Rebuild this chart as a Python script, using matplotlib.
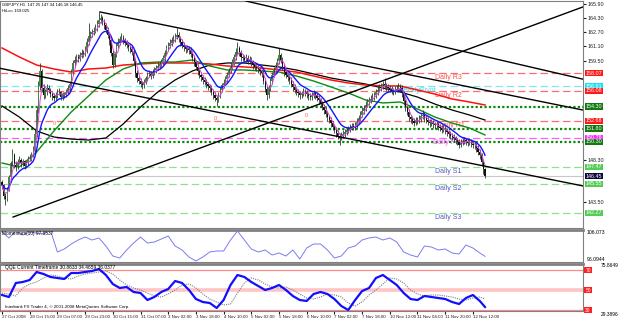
import matplotlib
matplotlib.use('Agg')
import matplotlib.pyplot as plt
import matplotlib.transforms as mtransforms
import numpy as np
import pandas as pd

plt.rcParams['font.family'] = ['Liberation Sans', 'DejaVu Sans']

# ---- data (GBPJPY H1, 27 Oct 23:00 .. 12 Nov) ----
title_text = 'GBPJPY,H1  147.25 147.34 146.18 146.45'
hilo_text = 'HiLo= 159.025'

first_open = 145.8
closes = [
    145.4, 144.2, 143.9, 144.9, 146.3, 147.9, 148.8, 147.7, 147.5, 148.0,
    148.3, 147.9, 148.1, 147.6, 147.9, 148.4, 148.5, 148.9, 149.4, 151.2,
    153.9, 156.6, 158.3, 156.4, 155.6, 155.9, 156.4, 156.2, 155.7, 155.5,
    155.3, 155.6, 156.0, 155.9, 155.4, 155.7, 155.6, 156.0, 156.4, 156.8,
    158.2, 159.2, 159.6, 159.9, 159.7, 160.1, 160.4, 160.2, 160.7, 161.6,
    162.3, 162.5, 162.7, 162.9, 163.2, 163.6, 164.1, 164.3, 163.9, 163.5,
    163.0, 162.4, 161.8, 160.4, 159.0, 160.2, 161.2, 161.6, 161.9, 162.1,
    161.8, 161.5, 161.3, 161.0, 160.8, 160.5, 159.4, 158.1, 157.5, 157.2,
    156.9, 156.7, 157.1, 157.5, 157.9, 158.0, 157.8, 158.2, 158.4, 158.7,
    158.9, 159.1, 159.3, 159.8, 160.4, 160.9, 161.2, 161.5, 161.8, 161.9,
    162.2, 162.4, 162.0, 161.6, 161.3, 161.0, 160.8, 160.9, 160.7, 160.3,
    159.8, 159.3, 158.8, 158.3, 157.9, 157.6, 157.3, 157.1, 156.8, 156.6,
    156.4, 156.0, 155.6, 155.3, 155.1, 155.6, 156.2, 156.7, 157.0, 157.4,
    157.9, 158.4, 158.9, 159.3, 159.9, 160.5, 160.9, 160.4, 159.9, 159.8,
    159.6, 159.8, 159.5, 159.6, 159.3, 159.0, 158.8, 158.7, 158.5, 158.3,
    158.1, 157.2, 156.3, 155.6, 156.4, 157.2, 157.9, 158.5, 159.0, 159.4,
    160.1, 159.6, 158.8, 158.2, 157.9, 157.6, 157.3, 156.9, 156.5, 156.2,
    156.0, 155.8, 155.6, 155.8, 156.0, 155.9, 155.7, 155.5, 155.4, 155.6,
    155.8, 155.6, 155.3, 155.0, 154.6, 154.3, 153.9, 153.5, 153.1, 152.8,
    152.4, 152.0, 151.7, 151.3, 151.0, 150.8, 151.0, 151.2, 151.4, 151.6,
    151.7, 151.9, 152.1, 152.0, 152.2, 152.6, 153.0, 153.4, 153.8, 154.1,
    154.5, 154.8, 155.0, 155.2, 155.4, 155.6, 155.9, 156.2, 156.4, 156.6,
    156.8, 156.7, 156.5, 156.4, 156.3, 156.1, 156.0, 156.2, 156.3, 156.5,
    156.4, 155.8, 154.9, 154.2, 153.7, 153.1, 152.9, 152.7, 152.5, 152.8,
    152.7, 152.9, 153.2, 153.4, 153.0, 152.8, 152.6, 152.4, 152.5, 152.3,
    152.2, 152.3, 152.0, 151.9, 151.7, 151.8, 151.6, 151.4, 151.2, 151.0,
    150.9, 150.7, 150.5, 150.3, 150.0, 150.2, 150.4, 150.5, 150.3, 150.2,
    150.3, 150.1, 150.0, 149.9, 149.6, 149.2, 148.8, 148.0, 147.25, 146.45,
]
highs = [
    146.0, 145.6, 144.5, 145.2, 146.6, 148.2, 149.5, 149.0, 148.1, 148.4,
    148.7, 148.5, 148.4, 148.3, 148.2, 148.7, 148.9, 149.2, 149.8, 151.6,
    154.3, 157.2, 159.2, 158.6, 156.8, 156.3, 156.8, 156.7, 156.4, 156.0,
    155.8, 155.9, 156.3, 156.4, 156.1, 156.0, 156.0, 156.3, 156.7, 157.2,
    158.6, 159.6, 160.0, 160.3, 160.2, 160.5, 160.8, 160.7, 161.1, 162.0,
    163.8, 162.9, 163.1, 163.3, 163.6, 164.1, 165.0, 164.8, 164.6, 164.2,
    163.8, 163.3, 162.7, 162.0, 160.7, 160.5, 161.5, 162.0, 162.3, 162.6,
    162.4, 162.1, 161.8, 161.6, 161.3, 161.1, 160.8, 159.7, 158.4, 157.8,
    157.5, 157.2, 157.4, 157.8, 158.2, 158.4, 158.3, 158.5, 158.8, 159.0,
    159.3, 159.5, 159.7, 160.1, 160.7, 161.3, 161.6, 161.9, 162.2, 162.4,
    162.6, 163.2, 162.7, 162.3, 161.9, 161.6, 161.3, 161.3, 161.2, 161.0,
    160.6, 160.1, 159.6, 159.1, 158.6, 158.2, 157.9, 157.6, 157.4, 157.1,
    156.9, 156.7, 156.3, 155.9, 155.6, 155.9, 156.5, 157.0, 157.4, 157.8,
    158.2, 158.7, 159.3, 159.7, 160.3, 160.9, 161.6, 161.2, 160.7, 160.3,
    160.1, 160.2, 160.1, 160.0, 159.9, 159.6, 159.3, 159.2, 159.0, 158.8,
    158.6, 158.4, 157.5, 156.6, 156.7, 157.5, 158.2, 158.8, 159.3, 159.8,
    160.9, 160.4, 159.9, 159.1, 158.5, 158.2, 157.9, 157.6, 157.2, 156.8,
    156.5, 156.3, 156.1, 156.1, 156.4, 156.3, 156.2, 156.0, 155.8, 156.0,
    156.2, 156.1, 155.9, 155.6, 155.3, 154.9, 154.6, 154.2, 153.8, 153.4,
    153.1, 152.7, 152.3, 152.0, 151.6, 151.3, 151.4, 151.6, 151.8, 152.0,
    152.1, 152.3, 152.5, 152.4, 152.6, 153.0, 153.4, 153.8, 154.2, 154.5,
    154.9, 155.2, 155.4, 155.6, 155.8, 156.0, 156.3, 156.6, 156.8, 157.0,
    157.2, 157.5, 157.0, 156.8, 156.7, 156.6, 156.4, 156.6, 156.7, 157.0,
    156.9, 156.7, 156.1, 155.2, 154.5, 154.0, 153.4, 153.2, 153.0, 153.1,
    153.1, 153.3, 153.6, 153.9, 153.7, 153.3, 153.1, 152.9, 152.9, 152.8,
    152.6, 152.7, 152.6, 152.3, 152.2, 152.2, 152.1, 151.9, 151.7, 151.5,
    151.3, 151.2, 151.0, 150.8, 150.6, 150.6, 150.8, 150.9, 150.8, 150.6,
    150.7, 150.6, 150.4, 150.3, 150.2, 149.9, 149.5, 149.1, 148.3, 147.34,
]
lows = [
    145.0, 143.8, 143.2, 143.6, 144.7, 146.1, 147.6, 147.3, 147.0, 147.2,
    147.8, 147.5, 147.6, 147.2, 147.3, 147.7, 148.1, 148.2, 148.6, 149.2,
    150.9, 153.6, 156.2, 155.9, 155.2, 155.3, 155.6, 155.8, 155.4, 155.1,
    154.9, 155.0, 155.3, 155.6, 155.0, 155.1, 155.3, 155.4, 155.7, 156.1,
    156.6, 157.9, 158.8, 159.3, 159.3, 159.4, 159.8, 159.9, 160.0, 160.4,
    161.3, 162.0, 162.2, 162.4, 162.6, 162.9, 163.3, 163.8, 163.5, 163.1,
    162.6, 162.0, 161.3, 160.0, 158.7, 158.8, 159.9, 160.9, 161.3, 161.6,
    161.4, 161.1, 160.9, 160.6, 160.4, 160.1, 159.0, 157.7, 157.1, 156.8,
    156.5, 156.3, 156.4, 156.8, 157.2, 157.6, 157.4, 157.5, 157.9, 158.1,
    158.4, 158.6, 158.8, 159.0, 159.5, 160.1, 160.6, 160.9, 161.2, 161.5,
    161.6, 161.9, 161.6, 161.2, 160.9, 160.6, 160.4, 160.5, 160.3, 159.9,
    159.4, 158.9, 158.4, 157.9, 157.5, 157.2, 156.9, 156.7, 156.4, 156.2,
    156.0, 155.6, 155.2, 154.9, 154.4, 154.8, 155.3, 155.9, 156.4, 156.7,
    157.1, 157.6, 158.1, 158.6, 159.0, 159.6, 160.2, 160.0, 159.5, 159.4,
    159.2, 159.3, 159.1, 159.2, 158.9, 158.6, 158.4, 158.3, 158.1, 157.9,
    157.7, 156.8, 155.9, 155.0, 155.3, 156.1, 156.9, 157.6, 158.2, 158.7,
    159.1, 159.2, 158.4, 157.8, 157.5, 157.2, 156.9, 156.5, 156.1, 155.8,
    155.6, 155.4, 155.2, 155.3, 155.5, 155.5, 155.3, 155.1, 155.0, 155.1,
    155.3, 155.2, 154.9, 154.6, 154.2, 153.9, 153.5, 153.1, 152.7, 152.4,
    152.0, 151.6, 151.3, 150.9, 150.6, 150.0, 150.5, 150.7, 150.9, 151.1,
    151.3, 151.4, 151.6, 151.6, 151.7, 151.9, 152.3, 152.7, 153.1, 153.5,
    153.8, 154.2, 154.5, 154.7, 154.9, 155.1, 155.3, 155.6, 155.9, 156.1,
    156.3, 156.3, 156.1, 156.0, 155.9, 155.7, 155.6, 155.7, 155.9, 156.0,
    156.0, 155.4, 154.5, 153.8, 153.3, 152.7, 152.5, 152.3, 152.1, 152.2,
    152.3, 152.4, 152.6, 152.9, 152.6, 152.4, 152.2, 152.0, 152.1, 151.9,
    151.8, 151.9, 151.6, 151.5, 151.3, 151.4, 151.2, 151.0, 150.8, 150.6,
    150.5, 150.3, 150.1, 149.9, 149.6, 149.7, 149.9, 150.1, 149.9, 149.8,
    149.9, 149.7, 149.6, 149.5, 149.2, 148.8, 148.4, 147.6, 146.7, 146.18,
]

# long moving averages, read every 10 bars (last one at the final bar)
ma_bars = [0, 10, 20, 30, 40, 50, 60, 70, 80, 90, 100, 110, 120, 130, 140,
           150, 160, 170, 180, 190, 200, 210, 220, 230, 240, 250, 260, 270, 279]
green_ma = [147.92, 147.47, 149.16, 151.54, 153.69, 155.50, 157.31, 158.55,
            159.23, 159.34, 159.34, 159.57, 158.89, 158.44, 158.44, 158.32,
            158.21, 157.76, 157.19, 156.52, 155.84, 155.05, 154.71, 154.82,
            154.03, 153.12, 152.44, 151.88, 151.09]
red_ma = [160.93, 159.91, 159.00, 158.55, 158.21, 158.55, 158.66, 159.00,
          159.12, 159.23, 159.23, 159.23, 159.12, 158.89, 158.78, 158.66,
          158.44, 158.21, 157.76, 157.31, 156.97, 156.74, 156.63, 156.63,
          156.18, 155.72, 155.16, 154.82, 154.48]
black_ma = [154.37, 153.12, 151.54, 150.86, 150.63, 150.52, 150.75, 152.33,
            154.25, 155.95, 157.31, 158.33, 159.00, 159.23, 159.23, 159.00,
            158.78, 158.44, 157.99, 157.53, 157.19, 156.85, 156.40, 155.95,
            155.38, 154.59, 153.91, 153.35, 152.78]

# trend lines: (bar, price) anchors
channel_lines = [((143.3, 166.13), (350.1, 156.74)),
                 ((229.9, 149.50), (350.1, 144.75))]
ray_lines = [((56.6, 165.00), (241.5, 157.65)),
             ((6.4, 141.81), (241.5, 158.78))]

# pivot / level lines
level_names = ['Daily R3', 'WeeklyPivot', 'Daily R2', '', 'Daily R1', '',
               'Daily Pivot', '', 'Daily S1', '', 'Daily S2', 'Daily S3']
level_prices = [158.07, 156.61, 156.08, 154.30, 152.68, 151.80,
                150.76, 150.30, 147.47, 146.45, 145.55, 142.27]
level_kinds = ['r', 'w', 'r', 'g', 'r', 'g', 'p', 'g', 's', 'bid', 's', 's']
level_text_bars = [250, 229, 250, 0, 252, 0, 249, 0, 250, 0, 250, 250]

zero_marks_bars = [30, 123, 176]
zero_marks_prices = [152.44, 152.90, 153.24]

price_ticks = [165.90, 164.30, 162.70, 161.10, 159.50, 157.90, 156.30, 154.70,
               153.10, 151.50, 149.90, 148.30, 146.70, 145.10, 143.50, 141.90]

# indicators, read every 4 bars (last one at the final bar)
ind_bars = list(range(0, 277, 4)) + [279]
momentum = [105.39, 103.53, 105.70, 104.46, 105.39, 105.08, 104.77, 105.90,
            99.19, 100.12, 101.67, 102.91, 103.84, 102.91, 103.53, 101.05,
            97.95, 97.33, 99.81, 101.98, 103.84, 101.98, 102.29, 103.22,
            104.15, 101.05, 99.81, 97.64, 96.40, 97.64, 99.19, 99.50, 99.50,
            102.91, 105.70, 102.91, 100.12, 99.19, 99.81, 98.26, 98.88, 97.95,
            99.81, 97.02, 100.43, 101.67, 101.67, 99.81, 97.33, 97.95, 100.43,
            101.05, 102.91, 103.53, 103.84, 102.91, 103.53, 102.29, 99.19,
            98.26, 97.64, 101.05, 100.74, 99.81, 100.12, 98.88, 98.57, 101.36,
            100.43, 98.88, 97.85]
qqe_main = [45, 43, 57, 58, 60, 68, 66, 63, 62, 61, 67, 67, 68, 69, 71, 65,
            56, 52, 53, 48, 47, 40, 43, 48, 51, 59, 57, 50, 41, 38, 37, 32,
            40, 55, 65, 63, 58, 54, 50, 52, 55, 50, 44, 40, 39, 46, 48, 46,
            41, 34, 30, 40, 49, 52, 62, 65, 60, 55, 47, 41, 40, 44, 43, 42,
            41, 38, 36, 42, 45, 39, 33]
qqe_slow = [47, 46, 44, 52, 56, 58, 62, 65, 64, 62, 61, 64, 66, 67, 68, 69,
            66, 60, 55, 52, 50, 47, 44, 43, 46, 50, 55, 56, 52, 46, 41, 38,
            35, 36, 47, 57, 62, 60, 56, 53, 52, 53, 50, 46, 42, 41, 43, 46,
            45, 43, 37, 34, 38, 45, 50, 56, 62, 61, 57, 50, 46, 44, 45, 45,
            44, 43, 41, 40, 42, 43, 41]
qqe_levels = [70, 50, 30]

time_labels = ['27 Oct 2008', '28 Oct 15:00', '29 Oct 07:00', '29 Oct 23:00',
               '30 Oct 15:00', '31 Oct 07:00', '3 Nov 02:00', '3 Nov 18:00',
               '4 Nov 10:00', '5 Nov 02:00', '5 Nov 18:00', '6 Nov 10:00',
               '7 Nov 02:00', '7 Nov 18:00', '10 Nov 12:00', '11 Nov 04:00',
               '11 Nov 20:00', '12 Nov 12:00']
label_bars = list(range(0, 16 * len(time_labels), 16))

# ---- layout (pixel boxes of the 625x322 picture) ----
W, H = 625, 322
fig = plt.figure(figsize=(W / 100, H / 100), dpi=100)
fig.patch.set_facecolor('white')


def px_box(x0, y0, x1, y1):
    return [x0 / W, 1 - y1 / H, (x1 - x0) / W, (y1 - y0) / H]


ax = fig.add_axes(px_box(0, 1, 583, 228))
ax_m = fig.add_axes(px_box(0, 230, 583, 262))
ax_q = fig.add_axes(px_box(0, 264, 583, 311))

x_lo, x_hi = -1.16, 335.6
for a in (ax, ax_m, ax_q):
    a.set_xlim(x_lo, x_hi)
    for s in a.spines.values():
        s.set_color('#808080')
        s.set_linewidth(0.8)

# ---- main price window ----
ax.set_ylim(140.57, 166.24)
closes = np.array(closes)
highs = np.array(highs)
lows = np.array(lows)
opens = np.r_[first_open, closes[:-1]]
bars = np.arange(len(closes))
up = closes >= opens

style = {
    'r': dict(color='#ff6a6a', ls=(0, (6, 3)), lw=0.9),
    'w': dict(color='#7fe8ef', ls=(0, (6, 3)), lw=0.9),
    'g': dict(color='#0a8a0a', ls=(0, (1, 1)), lw=1.6),
    'p': dict(color='#ff5cff', ls=(0, (6, 3)), lw=0.9),
    's': dict(color='#8fe08f', ls=(0, (6, 3)), lw=0.9),
    'bid': dict(color='#c8c8c8', ls='-', lw=0.8),
}
box_fc = {'r': '#ff1a1a', 'w': '#22e0f0', 'g': '#117a11', 'p': '#ff2cff',
          's': '#55cc55', 'bid': '#0a0a3a'}
text_col = {'r': '#ff5050', 'w': '#3fd8e8', 'p': '#ff50ff', 's': '#5858c8'}

ytrans = mtransforms.blended_transform_factory(ax.transAxes, ax.transData)
for name, price, kind, tb in zip(level_names, level_prices, level_kinds,
                                 level_text_bars):
    ax.axhline(price, zorder=1, **style[kind])
    ax.text(1.004, price, f'{price:.2f}', transform=ytrans, fontsize=3.9,
            color='white', ha='left', va='center', clip_on=False, zorder=10,
            bbox=dict(boxstyle='square,pad=0.13', fc=box_fc[kind], ec='none'))
    if name:
        ax.text(tb, price - 0.12, name, fontsize=5.0, color=text_col[kind],
                ha='left', va='top', zorder=2)

for b, p in zip(zero_marks_bars, zero_marks_prices):
    ax.text(b, p, '0', fontsize=4.0, color='#ff6060', ha='center',
            va='center', zorder=2)

# moving averages
cs = pd.Series(closes)
ax.plot(ma_bars, black_ma, color='black', lw=0.9, zorder=2)
ax.plot(ma_bars, red_ma, color='#ff1010', lw=1.1, zorder=2)
ax.plot(ma_bars, green_ma, color='#108a10', lw=1.0, zorder=2)

# candles
ax.vlines(bars, lows, highs, color='#243f26', lw=0.6, zorder=3)
ax.bar(bars[up], (closes - opens)[up], bottom=opens[up], width=0.7,
       color='#4a864a', lw=0, zorder=4)
ax.bar(bars[~up], (opens - closes)[~up], bottom=closes[~up], width=0.7,
       color='#101010', lw=0, zorder=4)

ax.plot(bars, cs.ewm(span=12, adjust=False).mean(), color='#1414ff', lw=1.0,
        zorder=5)
ax.plot(bars, cs.rolling(4, min_periods=1).mean(), color='#e040e0', lw=0.7,
        zorder=5)

# trend lines
for p1, p2 in channel_lines:
    ax.axline(p1, p2, color='black', lw=1.0, zorder=6)
for p1, p2 in ray_lines:
    slope = (p2[1] - p1[1]) / (p2[0] - p1[0])
    ax.plot([p1[0], x_hi], [p1[1], p1[1] + slope * (x_hi - p1[0])],
            color='black', lw=1.0, zorder=6)

# right price scale: labels hidden where a level box covers them
shown_ticks = [t for t in price_ticks
               if min(abs(t - lp) for lp in level_prices) > 0.62]
ax.set_xticks([])
ax.yaxis.tick_right()
ax.set_yticks(shown_ticks)
ax.set_yticklabels([f'{t:.2f}' for t in shown_ticks])
ax.tick_params(axis='y', labelsize=3.9, length=2, pad=1, colors='#202020')

ax.text(0.004, 0.993, title_text, transform=ax.transAxes, fontsize=3.1,
        ha='left', va='top', zorder=10)
ax.text(0.004, 0.966, hilo_text, transform=ax.transAxes, fontsize=3.1,
        ha='left', va='top', zorder=10)

# ---- momentum window ----
ax_m.set_ylim(96.09, 106.01)
ax_m.plot(ind_bars, momentum, color='#7b7bf0', lw=0.7)
ax_m.set_xticks([])
ax_m.set_yticks([])
ax_m.spines['top'].set_linewidth(2.0)
ax_m.text(0.004, 0.97, 'Momentum(10) 97.8537', transform=ax_m.transAxes,
          fontsize=3.4, ha='left', va='top')
ax_m.text(1.006, 1.0, '106.073', transform=ax_m.transAxes, fontsize=3.7,
          ha='left', va='top', clip_on=False)
ax_m.text(1.006, 0.0, '96.0944', transform=ax_m.transAxes, fontsize=3.7,
          ha='left', va='bottom', clip_on=False)

# ---- QQE window ----
ax_q.set_ylim(29, 76)
ax_q.axhline(qqe_levels[0], color='#ff8a8a', lw=0.9)
ax_q.axhline(qqe_levels[1], color='#ffc4c4', lw=2.6)
ax_q.axhline(qqe_levels[2], color='#ff8a8a', lw=0.9)
ax_q.plot(ind_bars, qqe_slow, color='#808080', lw=0.8, ls=(0, (1, 1)))
ax_q.plot(ind_bars, qqe_main, color='#1010ff', lw=1.6)
ax_q.spines['top'].set_linewidth(2.0)
ax_q.set_yticks([])
qtrans = mtransforms.blended_transform_factory(ax_q.transAxes, ax_q.transData)
for lv in qqe_levels:
    ax_q.text(1.004, lv, f'{lv}', transform=qtrans, fontsize=3.5,
              color='white', ha='left', va='center', clip_on=False,
              bbox=dict(boxstyle='square,pad=0.2', fc='#ff2020', ec='none'))
ax_q.text(1.03, 74.5, '75.8649', transform=qtrans, fontsize=3.5,
          ha='left', va='center', clip_on=False)
ax_q.text(1.03, 26.0, '29.3896', transform=qtrans, fontsize=3.5,
          ha='left', va='center', clip_on=False)
ax_q.text(0.008, 0.97, 'QQE Current Timeframe 30.8633 34.4659 36.0377',
          transform=ax_q.transAxes, fontsize=3.5, ha='left', va='top')
ax_q.text(0.008, 0.04,
          'Interbank FX Trader 4, \u00a9 2001-2008 MetaQuotes Software Corp.',
          transform=ax_q.transAxes, fontsize=3.2, ha='left', va='bottom')

ax_q.set_xticks(label_bars)
ax_q.set_xticklabels(time_labels, fontsize=3.2, ha='left')
ax_q.tick_params(axis='x', length=2, pad=1, colors='#202020')

fig.savefig('out.png', dpi=100, facecolor='white')
